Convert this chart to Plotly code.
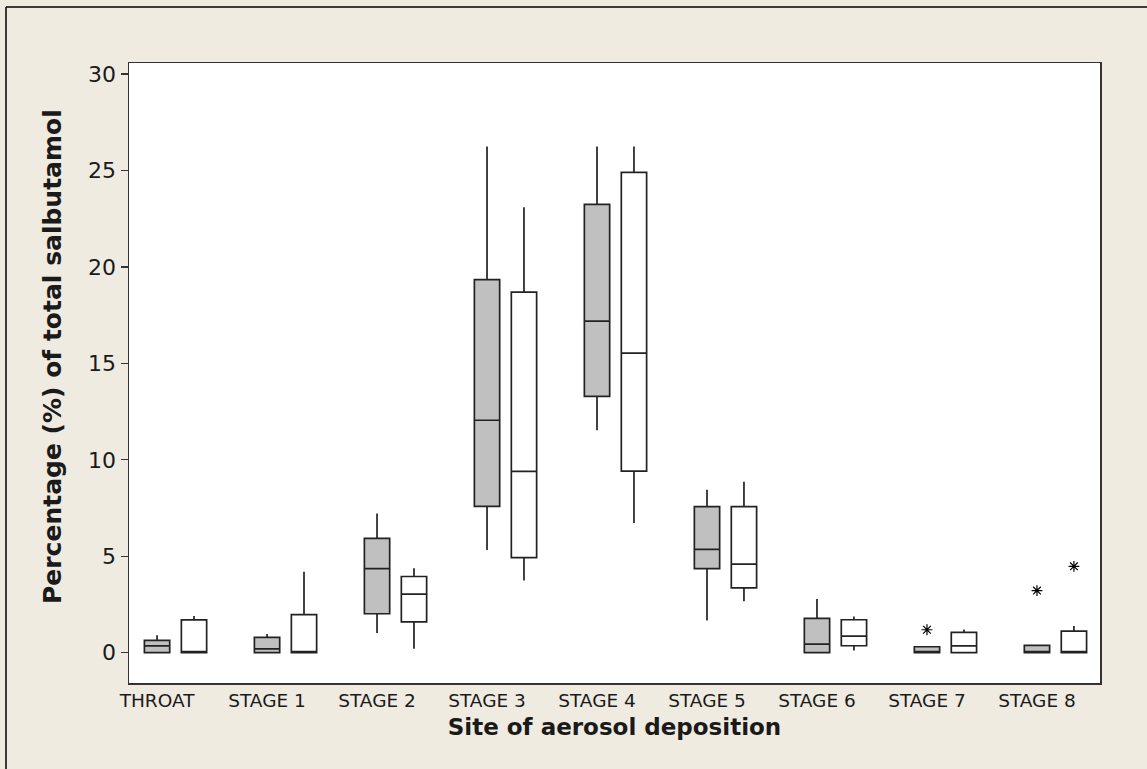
import plotly.graph_objects as go

categories = ["THROAT", "STAGE 1", "STAGE 2", "STAGE 3", "STAGE 4",
              "STAGE 5", "STAGE 6", "STAGE 7", "STAGE 8"]

# Grey boxes (first group)
grey_lower = [0.0, 0.0, 1.02, 5.33, 11.53, 1.67, 0.0, 0.0, 0.0]
grey_q1 = [0.0, 0.0, 2.02, 7.59, 13.29, 4.36, 0.0, 0.0, 0.0]
grey_median = [0.35, 0.2, 4.36, 12.05, 17.19, 5.36, 0.45, 0.0, 0.0]
grey_q3 = [0.64, 0.79, 5.93, 19.34, 23.24, 7.57, 1.78, 0.31, 0.38]
grey_upper = [0.9, 0.97, 7.22, 26.24, 26.24, 8.45, 2.79, 0.31, 0.38]

# White boxes (second group)
white_lower = [0.0, 0.0, 0.2, 3.74, 6.72, 2.67, 0.12, 0.0, 0.0]
white_q1 = [0.0, 0.0, 1.6, 4.93, 9.41, 3.36, 0.36, 0.0, 0.0]
white_median = [0.0, 0.0, 3.04, 9.40, 15.53, 4.59, 0.86, 0.35, 0.0]
white_q3 = [1.7, 1.97, 3.95, 18.69, 24.9, 7.57, 1.71, 1.05, 1.12]
white_upper = [1.9, 4.2, 4.38, 23.09, 26.24, 8.86, 1.88, 1.2, 1.38]

# Outliers: (category index, value)
grey_outlier_idx = [7, 8]
grey_outlier_val = [1.19, 3.22]
white_outlier_idx = [8]
white_outlier_val = [4.48]

offset = 0.336
xg = list(range(len(categories)))
xw = [i + offset for i in xg]

fig = go.Figure()
fig.add_trace(go.Box(
    x=xg, q1=grey_q1, median=grey_median, q3=grey_q3,
    lowerfence=grey_lower, upperfence=grey_upper,
    width=0.23, whiskerwidth=0, fillcolor="#C0C0C0",
    line=dict(color="#222222", width=1.7), boxpoints=False,
    showlegend=False, hoverinfo="skip"))
fig.add_trace(go.Box(
    x=xw, q1=white_q1, median=white_median, q3=white_q3,
    lowerfence=white_lower, upperfence=white_upper,
    width=0.23, whiskerwidth=0, fillcolor="#FFFFFF",
    line=dict(color="#222222", width=1.7), boxpoints=False,
    showlegend=False, hoverinfo="skip"))
fig.add_trace(go.Scatter(
    x=[xg[i] for i in grey_outlier_idx] + [xw[i] for i in white_outlier_idx],
    y=grey_outlier_val + white_outlier_val,
    mode="markers",
    marker=dict(symbol="asterisk-open", size=9, color="black",
                line=dict(color="black", width=1.2)),
    showlegend=False, hoverinfo="skip"))

L, R, T, B = 129, 47, 63, 86
W, H = 1147, 769
pw = W - L - R
ph = H - T - B

fig.add_shape(type="line", xref="paper", yref="paper",
              x0=(6 - L) / pw, x1=(W + 20 - L) / pw,
              y0=(H - B - 7) / ph, y1=(H - B - 7) / ph,
              line=dict(color="black", width=1.5))
fig.add_shape(type="line", xref="paper", yref="paper",
              x0=(6 - L) / pw, x1=(6 - L) / pw,
              y0=(H - B - 7) / ph, y1=-(B + 20) / ph,
              line=dict(color="black", width=1.5))

# y-axis title placed like the reference (slightly above centre)
fig.add_annotation(
    text="<b>Percentage (%) of total salbutamol</b>",
    xref="paper", yref="paper",
    x=(52 - L) / pw, y=(H - B - 357) / ph,
    textangle=-90, showarrow=False, xanchor="center", yanchor="middle",
    font=dict(size=25, color="#1a1a1a"))

fig.update_layout(
    width=W, height=H,
    margin=dict(l=L, r=R, t=T, b=B),
    paper_bgcolor="#EFEBE1",
    plot_bgcolor="#FFFFFF",
    font=dict(family="DejaVu Sans, Verdana, sans-serif", color="#1a1a1a"),
    xaxis=dict(
        range=[-0.255, 8.573],
        tickmode="array", tickvals=xg, ticktext=categories,
        ticks="", tickfont=dict(size=18.5, color="#1a1a1a"),
        showgrid=False, zeroline=False,
        showline=True, linecolor="#333333", linewidth=1.5, mirror=True,
        title=dict(text="<b>Site of aerosol deposition</b>",
                   font=dict(size=23), standoff=9),
    ),
    yaxis=dict(
        range=[-1.57, 30.57],
        tickvals=[0, 5, 10, 15, 20, 25, 30],
        ticks="outside", ticklen=7, tickwidth=1.3, tickcolor="#333333",
        tickfont=dict(size=22, color="#1a1a1a"),
        showgrid=False, zeroline=False,
        showline=True, linecolor="#333333", linewidth=1.5, mirror=True,
    ),
)

fig.write_html(
    "out.html",
    config={"displayModeBar": False, "staticPlot": True},
    post_script="document.body.style.margin='0';"
                "document.body.style.background='#EFEBE1';",
)
